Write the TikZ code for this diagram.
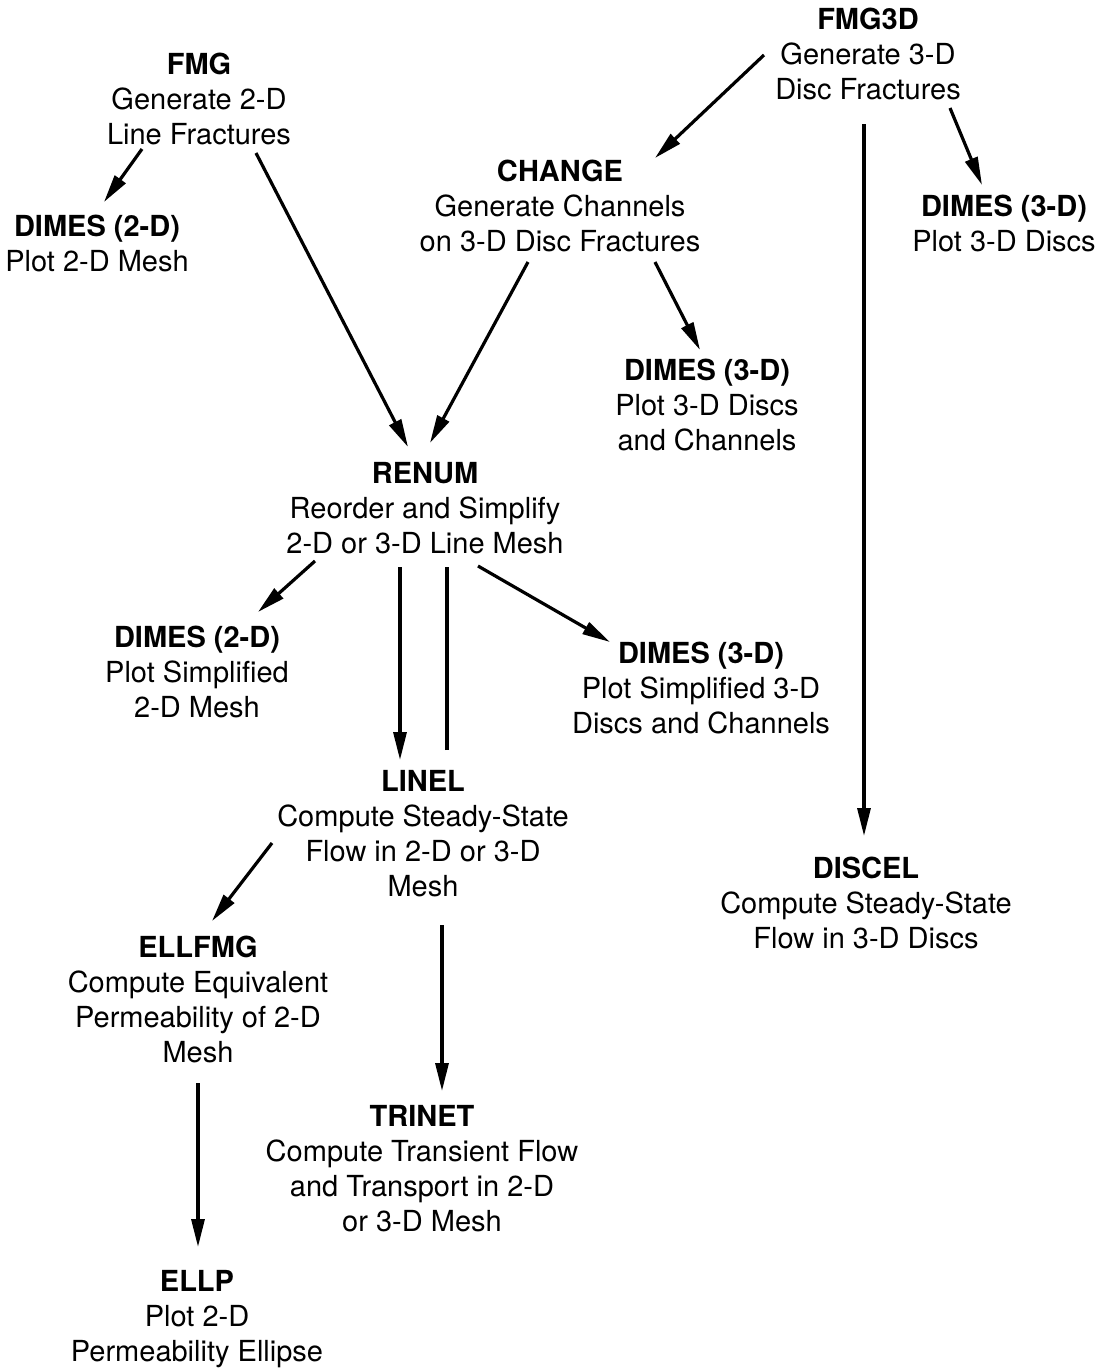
\documentclass[tikz,border=0pt]{standalone}
\usepackage{fontspec}
\setmainfont{TeX Gyre Heros}
\usetikzlibrary{arrows.meta}
\tikzset{
  x=1pt, y=-1pt,
  blk/.style={align=center, inner sep=0pt, font=\fontsize{29}{35}\selectfont},
  arr/.style={line width=3.2pt, -{Triangle[length=28pt,width=13pt]}},
  ln/.style={line width=3.2pt}
}
\begin{document}
\begin{tikzpicture}
\fill[white] (0,0) rectangle (1098,1369);
\useasboundingbox (0,0) rectangle (1098,1369);

\node[blk] (fmg)    at (199,99)    {\textbf{FMG}\\Generate 2-D\\Line Fractures};
\node[blk] (dimesA) at (97,243)    {\textbf{DIMES (2-D)}\\Plot 2-D Mesh};
\node[blk] (fmg3d)  at (868,53.5)  {\textbf{FMG3D}\\Generate 3-D\\Disc Fractures};
\node[blk] (change) at (560,206)   {\textbf{CHANGE}\\Generate Channels\\on 3-D Disc Fractures};
\node[blk] (dimesB) at (1004,223)  {\textbf{DIMES (3-D)}\\Plot 3-D Discs};
\node[blk] (dimesC) at (707,405)   {\textbf{DIMES (3-D)}\\Plot 3-D Discs\\and Channels};
\node[blk] (renum)  at (425,508)   {\textbf{RENUM}\\Reorder and Simplify\\2-D or 3-D Line Mesh};
\node[blk] (dimesD) at (197,672)   {\textbf{DIMES (2-D)}\\Plot Simplified\\2-D Mesh};
\node[blk] (dimesE) at (701,688)   {\textbf{DIMES (3-D)}\\Plot Simplified 3-D\\Discs and Channels};
\node[blk] (linel)  at (423,834)   {\textbf{LINEL}\\Compute Steady-State\\Flow in 2-D or 3-D\\Mesh};
\node[blk] (discel) at (866,903)   {\textbf{DISCEL}\\Compute Steady-State\\Flow in 3-D Discs};
\node[blk] (ellfmg) at (198,999)   {\textbf{ELLFMG}\\Compute Equivalent\\Permeability of 2-D\\Mesh};
\node[blk] (trinet) at (422,1168.5){\textbf{TRINET}\\Compute Transient Flow\\and Transport in 2-D\\or 3-D Mesh};
\node[blk] (ellp)   at (197,1319.5){\textbf{ELLP}\\Plot 2-D\\Permeability Ellipse};

\draw[arr] ([shift={(-57,50)}]fmg.center) -- ([shift={(7,-41)}]dimesA.center);
\draw[arr] ([shift={(57,54)}]fmg.center) -- ([shift={(-17,-61)}]renum.center);
\draw[arr] ([shift={(-32,56)}]change.center) -- ([shift={(5,-65)}]renum.center);
\draw[arr] ([shift={(-104,1.5)}]fmg3d.center) -- ([shift={(95,-48)}]change.center);
\draw[arr] ([shift={(82,54.5)}]fmg3d.center) -- ([shift={(-22,-38)}]dimesB.center);
\draw[arr] ([shift={(-4,70.5)}]fmg3d.center) -- ([shift={(-2,-67)}]discel.center);
\draw[arr] ([shift={(95,56)}]change.center) -- ([shift={(-7,-55)}]dimesC.center);
\draw[arr] ([shift={(-110,53)}]renum.center) -- ([shift={(61,-60)}]dimesD.center);
\draw[arr] ([shift={(-25,59)}]renum.center) -- ([shift={(-23,-74)}]linel.center);
\draw[ln]  ([shift={(24,-84)}]linel.center) -- ([shift={(22,59)}]renum.center);
\draw[arr] ([shift={(53,58)}]renum.center) -- ([shift={(-91,-46)}]dimesE.center);
\draw[arr] ([shift={(-151,9)}]linel.center) -- ([shift={(14,-78)}]ellfmg.center);
\draw[arr] ([shift={(19,91)}]linel.center) -- ([shift={(20,-77.5)}]trinet.center);
\draw[arr] ([shift={(0,84)}]ellfmg.center) -- ([shift={(1,-72.5)}]ellp.center);
\end{tikzpicture}
\end{document}
